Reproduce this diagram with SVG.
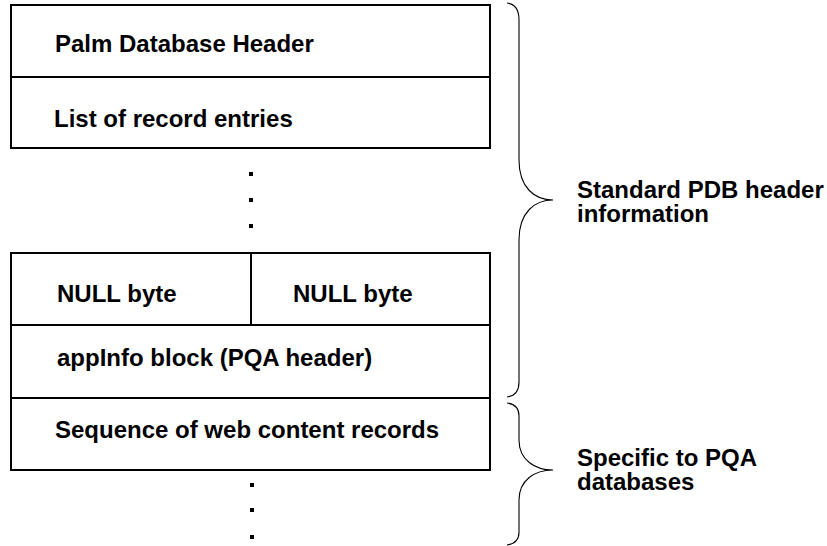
<svg xmlns="http://www.w3.org/2000/svg" width="827" height="546" viewBox="0 0 827 546">
<style>
.box{fill:#fff;stroke:#000;stroke-width:2}
.ln{stroke:#000;stroke-width:2;fill:none}
.t{font-family:"Liberation Sans",Arial,Helvetica,sans-serif;font-weight:bold;font-size:24px;fill:#000}
.br{fill:none;stroke:#000;stroke-width:1.1}
.dot{fill:#000}
</style>
<rect width="827" height="546" fill="#fff"/>
<g id="header-block">
<rect class="box" x="11" y="5" width="479" height="143"/>
<line class="ln" x1="11" y1="77" x2="490" y2="77"/>
</g>
<g id="palm-db-header"><text class="t" x="55" y="52">Palm Database Header</text></g>
<g id="record-list"><text class="t" x="54" y="127">List of record entries</text></g>
<g id="dots-1">
<rect class="dot" x="249" y="172" width="4" height="4"/>
<rect class="dot" x="249" y="198" width="4" height="4"/>
<rect class="dot" x="249" y="224" width="4" height="4"/>
</g>
<g id="lower-block">
<rect class="box" x="11" y="253" width="479" height="217"/>
<line class="ln" x1="11" y1="325" x2="490" y2="325"/>
<line class="ln" x1="11" y1="398" x2="490" y2="398"/>
<line class="ln" x1="251" y1="253" x2="251" y2="325"/>
</g>
<g id="null-byte-1"><text class="t" x="57" y="302">NULL byte</text></g>
<g id="null-byte-2"><text class="t" x="293" y="302">NULL byte</text></g>
<g id="appinfo"><text class="t" x="57" y="366">appInfo block (PQA header)</text></g>
<g id="web-records"><text class="t" x="55" y="438">Sequence of web content records</text></g>
<g id="dots-2">
<rect class="dot" x="250" y="483" width="4" height="4"/>
<rect class="dot" x="250" y="508" width="4" height="4"/>
<rect class="dot" x="250" y="535" width="4" height="4"/>
</g>
<g id="connectors">
<path class="br" d="M507,3 C515,4 519,10 519,20 L519,160 C519,188 535,200 553,200 C535,200 519,212 519,240 L519,382 C519,391 515,396 507,397"/>
<path class="br" d="M507,403 C515,404 519,408 519,416 L519,440 C519,460 535,470 553,470 C535,470 519,480 519,500 L519,532 C519,540 515,544 507,545"/>
</g>
<g id="label-standard"><text class="t" x="577" y="198">Standard PDB header</text><text class="t" x="577" y="222">information</text></g>
<g id="label-specific"><text class="t" x="577" y="466">Specific to PQA</text><text class="t" x="577" y="490">databases</text></g>
</svg>
